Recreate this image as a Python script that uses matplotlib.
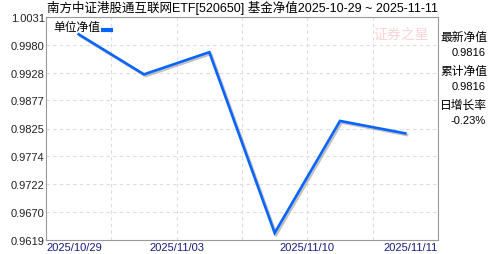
#!/usr/bin/env python3
import matplotlib
matplotlib.use("Agg")
import matplotlib.pyplot as plt
import matplotlib.patheffects as pe

plt.rcParams['font.family'] = ['Noto Sans CJK SC', 'DejaVu Sans']

# data
dates = ["2025/10/29", "2025/10/31", "2025/11/03", "2025/11/07", "2025/11/10", "2025/11/11"]
nav = [0.9999, 0.9925, 0.9966, 0.9632, 0.9839, 0.9816]
y_ticks = [0.9619, 0.9670, 0.9722, 0.9774, 0.9825, 0.9877, 0.9928, 0.9980, 1.0031]
x_labels = ["2025/10/29", "2025/11/03", "2025/11/10", "2025/11/11"]
title = "南方中证港股通互联网ETF[520650] 基金净值2025-10-29 ~ 2025-11-11"
side_info = [("最新净值", "0.9816"), ("累计净值", "0.9816"), ("日增长率", "-0.23%")]

W, H = 488, 255
fig = plt.figure(figsize=(W / 100, H / 100), dpi=100)
ax = fig.add_axes([46 / W, 14 / H, 392 / W, 223 / H])

xs = list(range(len(nav)))
ax.plot(xs, nav, color="#0a64ff", lw=1.9, solid_joinstyle="miter",
        path_effects=[pe.SimpleLineShadow(offset=(1.2, -1.2), shadow_color="#999999", alpha=0.6),
                      pe.Normal()])

ax.set_xlim(-0.5, len(nav) - 0.5)
ax.set_ylim(y_ticks[0], y_ticks[-1])
ax.set_yticks(y_ticks)
ax.set_yticklabels([f"{v:.4f}" for v in y_ticks], family="Liberation Sans", fontsize=8, color="#222222")
ax.set_xticks([0.5, 1.5, 2.5, 3.5, 4.5])
ax.set_xticklabels([])
ax.tick_params(length=0, pad=1)
ax.grid(True, color="#dddddd", ls=(0, (3, 3)), lw=0.8)
for s in ax.spines.values():
    s.set_color("#999999")

# x date labels: first left-aligned, last right-aligned
xpos = [(-0.5, "left"), (1.5, "center"), (3.5, "center"), (5.5, "right")]
for (x, ha), lab in zip(xpos, x_labels):
    ax.text(x, -0.01, lab, transform=ax.get_xaxis_transform(), ha=ha, va="top",
            family="Liberation Sans", fontsize=8, color="#1a1a80")

fig.text(47 / W, 1 - 8 / H, title, fontsize=9, va="center", ha="left",
         family=["Liberation Sans", "Noto Sans CJK SC"])

# legend
ax.text(0.02, 0.985, "单位净值", transform=ax.transAxes, fontsize=8.5, va="top", ha="left")
ax.plot([0.145, 0.165], [0.94, 0.94], transform=ax.transAxes, color="#0a64ff", lw=3, clip_on=False)

# watermark
ax.text(0.905, 0.92, "证券之星", transform=ax.transAxes, fontsize=10, color="#f5b8c0",
        alpha=0.6, ha="center", va="center", style="italic")

# side panel
y0 = 37
for i, (k, v) in enumerate(side_info):
    fig.text(440 / W, 1 - (y0 + i * 34) / H, k, fontsize=8.5, va="center", ha="left")
    fig.text(486 / W, 1 - (y0 + 16 + i * 34) / H, v, fontsize=8, va="center", ha="right",
             family="Liberation Sans")

fig.savefig("out.png", dpi=100)
